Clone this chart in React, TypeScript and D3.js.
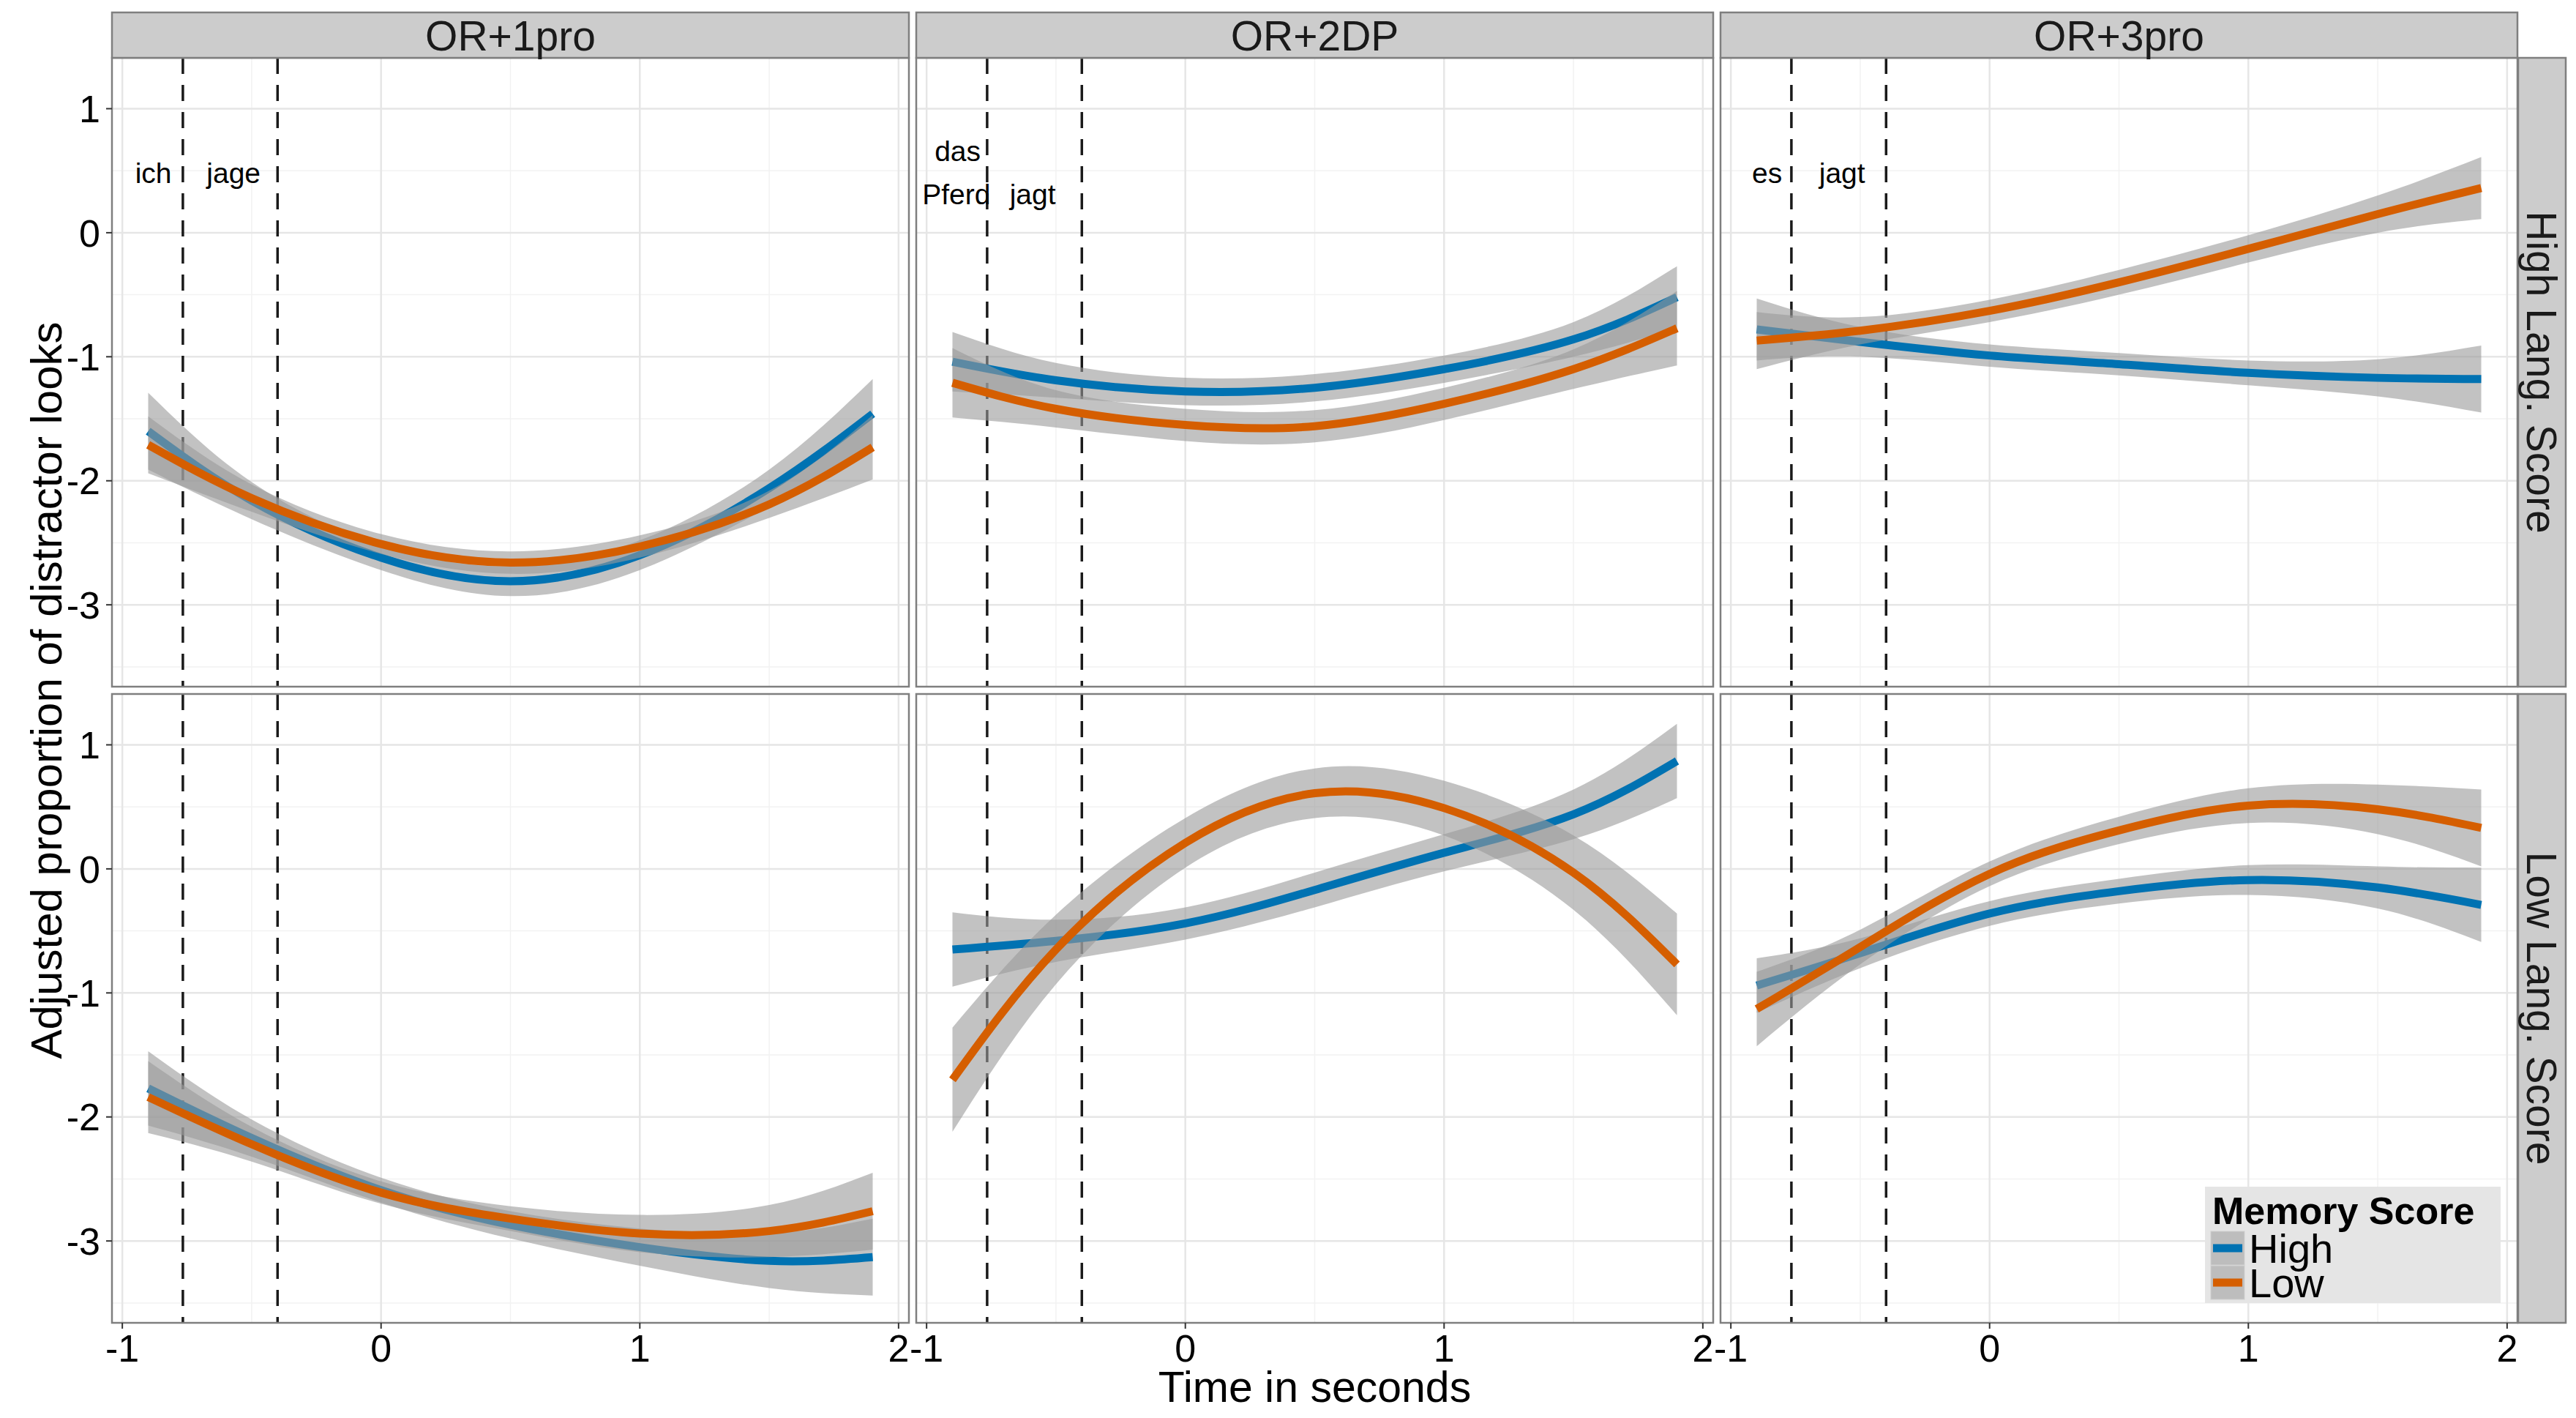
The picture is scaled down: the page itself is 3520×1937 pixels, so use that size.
import React from 'react';
import * as d3 from 'd3';

// ---------- data ----------
const timeSamples = [-0.9, -0.5, 0, 0.5, 1, 1.5, 1.9];
const constructions = ['OR+1pro', 'OR+2DP', 'OR+3pro'];
const languageScores = ['High Lang. Score', 'Low Lang. Score'];
const memoryScores = ['High', 'Low'];
const memoryColors = ['#0072B2', '#D55E00'];
const xTicks = [-1, 0, 1, 2];
const yTicks = [1, 0, -1, -2, -3];
const xMinor = [-0.5, 0.5, 1.5];
const yMinor = [1, 0.5, -0.5, -1.5, -2.5, -3.5];
const wordOnsets = [-0.766, -0.4];

// High Lang. Score row
const fit1proHiLangHiMem = [-1.6, -2.16, -2.62, -2.81, -2.6, -2.06, -1.46];
const se1proHiLangHiMem = [0.31, 0.15, 0.1, 0.12, 0.12, 0.15, 0.28];
const fit1proHiLangLoMem = [-1.71, -2.14, -2.51, -2.66, -2.53, -2.19, -1.73];
const se1proHiLangLoMem = [0.23, 0.11, 0.08, 0.09, 0.09, 0.11, 0.26];

const fit2DPHiLangHiMem = [-1.04, -1.19, -1.28, -1.25, -1.1, -0.86, -0.52];
const se2DPHiLangHiMem = [0.24, 0.14, 0.11, 0.11, 0.11, 0.14, 0.25];
const fit2DPHiLangLoMem = [-1.21, -1.42, -1.55, -1.56, -1.38, -1.1, -0.77];
const se2DPHiLangLoMem = [0.28, 0.15, 0.13, 0.13, 0.13, 0.16, 0.3];

const fit3proHiLangHiMem = [-0.78, -0.88, -0.99, -1.06, -1.13, -1.17, -1.18];
const se3proHiLangHiMem = [0.25, 0.12, 0.09, 0.09, 0.1, 0.15, 0.27];
const fit3proHiLangLoMem = [-0.87, -0.79, -0.63, -0.4, -0.13, 0.15, 0.36];
const se3proHiLangLoMem = [0.23, 0.11, 0.09, 0.1, 0.11, 0.15, 0.25];

// Low Lang. Score row
const fit1proLoLangHiMem = [-1.77, -2.17, -2.59, -2.87, -3.05, -3.16, -3.13];
const se1proLoLangHiMem = [0.3, 0.15, 0.1, 0.11, 0.15, 0.22, 0.31];
const fit1proLoLangLoMem = [-1.84, -2.22, -2.61, -2.82, -2.94, -2.92, -2.76];
const se1proLoLangLoMem = [0.29, 0.14, 0.09, 0.1, 0.15, 0.21, 0.31];

const fit2DPLoLangHiMem = [-0.65, -0.58, -0.44, -0.17, 0.13, 0.44, 0.87];
const se2DPLoLangHiMem = [0.3, 0.17, 0.13, 0.14, 0.15, 0.2, 0.3];
const fit2DPLoLangLoMem = [-1.7, -0.65, 0.21, 0.61, 0.49, -0.03, -0.77];
const se2DPLoLangLoMem = [0.42, 0.28, 0.2, 0.2, 0.22, 0.3, 0.41];

const fit3proLoLangHiMem = [-0.94, -0.68, -0.36, -0.18, -0.09, -0.15, -0.29];
const se3proLoLangHiMem = [0.22, 0.12, 0.1, 0.1, 0.12, 0.17, 0.3];
const fit3proLoLangLoMem = [-1.13, -0.63, -0.04, 0.31, 0.51, 0.48, 0.33];
const se3proLoLangLoMem = [0.3, 0.14, 0.1, 0.11, 0.14, 0.2, 0.31];

// word annotations (top row only)
const words1pro = [
  { text: 'ich', x: -0.88, y: 0.48 },
  { text: 'jage', x: -0.57, y: 0.48 },
];
const words2DP = [
  { text: 'das', x: -0.88, y: 0.66 },
  { text: 'Pferd', x: -0.885, y: 0.31 },
  { text: 'jagt', x: -0.59, y: 0.31 },
];
const words3pro = [
  { text: 'es', x: -0.86, y: 0.48 },
  { text: 'jagt', x: -0.57, y: 0.48 },
];

const panelFits = [
  [
    [[fit1proHiLangHiMem, se1proHiLangHiMem], [fit1proHiLangLoMem, se1proHiLangLoMem]],
    [[fit2DPHiLangHiMem, se2DPHiLangHiMem], [fit2DPHiLangLoMem, se2DPHiLangLoMem]],
    [[fit3proHiLangHiMem, se3proHiLangHiMem], [fit3proHiLangLoMem, se3proHiLangLoMem]],
  ],
  [
    [[fit1proLoLangHiMem, se1proLoLangHiMem], [fit1proLoLangLoMem, se1proLoLangLoMem]],
    [[fit2DPLoLangHiMem, se2DPLoLangHiMem], [fit2DPLoLangLoMem, se2DPLoLangLoMem]],
    [[fit3proLoLangHiMem, se3proLoLangHiMem], [fit3proLoLangLoMem, se3proLoLangLoMem]],
  ],
];
const panelWords = [words1pro, words2DP, words3pro];

// ---------- layout ----------
const W = 3520;
const H = 1937;
const left = 153;
const top = 79;
const panelW = 1089;
const panelH = 859;
const colGap = 10;
const rowGap = 10;
const stripTop = 17;
const stripH = top - stripTop;
const rightStripW = 65;
const FONT = "'Liberation Sans', Arial, Helvetica, sans-serif";
const ribbonFill = 'rgba(153,153,153,0.6)';
const borderColor = '#7f7f7f';

const colX = (c: number) => left + c * (panelW + colGap);
const rowY = (r: number) => top + r * (panelH + rowGap);

export default function App() {
  const panels: React.ReactNode[] = [];

  for (let r = 0; r < 2; r++) {
    for (let c = 0; c < 3; c++) {
      const x0 = colX(c);
      const y0 = rowY(r);
      const xs = d3.scaleLinear().domain([-1.04, 2.04]).range([x0, x0 + panelW]);
      const ys = d3.scaleLinear().domain([-3.66, 1.41]).range([y0 + panelH, y0]);
      const clipId = `clip-${r}-${c}`;

      const series = panelFits[r][c].map(([fit, se], g) => {
        const pts = timeSamples.map((t, i) => ({ t, y: fit[i], s: se[i] }));
        const area = d3
          .area<{ t: number; y: number; s: number }>()
          .x((d) => xs(d.t))
          .y0((d) => ys(d.y - d.s))
          .y1((d) => ys(d.y + d.s))
          .curve(d3.curveNatural);
        const line = d3
          .line<{ t: number; y: number; s: number }>()
          .x((d) => xs(d.t))
          .y((d) => ys(d.y))
          .curve(d3.curveNatural);
        return (
          <g key={`s${g}`}>
            <path d={area(pts) || ''} fill={ribbonFill} stroke="none" />
            <path d={line(pts) || ''} fill="none" stroke={memoryColors[g]} strokeWidth={11} />
          </g>
        );
      });

      panels.push(
        <g key={`p${r}${c}`}>
          <defs>
            <clipPath id={clipId}>
              <rect x={x0} y={y0} width={panelW} height={panelH} />
            </clipPath>
          </defs>
          <rect x={x0} y={y0} width={panelW} height={panelH} fill="#ffffff" />
          <g clipPath={`url(#${clipId})`}>
            {yMinor.map((v) => (
              <line key={`ym${v}`} x1={x0} x2={x0 + panelW} y1={ys(v)} y2={ys(v)} stroke="#f2f2f2" strokeWidth={1.5} />
            ))}
            {xMinor.map((v) => (
              <line key={`xm${v}`} x1={xs(v)} x2={xs(v)} y1={y0} y2={y0 + panelH} stroke="#f2f2f2" strokeWidth={1.5} />
            ))}
            {yTicks.map((v) => (
              <line key={`yg${v}`} x1={x0} x2={x0 + panelW} y1={ys(v)} y2={ys(v)} stroke="#e6e6e6" strokeWidth={2.5} />
            ))}
            {xTicks.map((v) => (
              <line key={`xg${v}`} x1={xs(v)} x2={xs(v)} y1={y0} y2={y0 + panelH} stroke="#e6e6e6" strokeWidth={2.5} />
            ))}
            {wordOnsets.map((v) => (
              <line
                key={`on${v}`}
                x1={xs(v)}
                x2={xs(v)}
                y1={y0}
                y2={y0 + panelH}
                stroke="#1a1a1a"
                strokeWidth={3.5}
                strokeDasharray="22 15"
              />
            ))}
            {series}
            {r === 0 &&
              panelWords[c].map((w, i) => (
                <text
                  key={`w${i}`}
                  x={xs(w.x)}
                  y={ys(w.y)}
                  dy="0.35em"
                  textAnchor="middle"
                  fontFamily={FONT}
                  fontSize={39}
                  fill="#000"
                >
                  {w.text}
                </text>
              ))}
          </g>
          <rect x={x0} y={y0} width={panelW} height={panelH} fill="none" stroke={borderColor} strokeWidth={2.5} />
          {/* y ticks for left column */}
          {c === 0 &&
            yTicks.map((v) => (
              <g key={`yt${v}`}>
                <line x1={x0 - 8} x2={x0} y1={ys(v)} y2={ys(v)} stroke="#333333" strokeWidth={2} />
                <text
                  x={x0 - 16}
                  y={ys(v)}
                  dy="0.36em"
                  textAnchor="end"
                  fontFamily={FONT}
                  fontSize={52}
                  fill="#000"
                >
                  {v}
                </text>
              </g>
            ))}
          {/* x ticks for bottom row */}
          {r === 1 &&
            xTicks.map((v) => (
              <g key={`xt${v}`}>
                <line x1={xs(v)} x2={xs(v)} y1={y0 + panelH} y2={y0 + panelH + 8} stroke="#333333" strokeWidth={2} />
                <text x={xs(v)} y={1860} textAnchor="middle" fontFamily={FONT} fontSize={52} fill="#000">
                  {v}
                </text>
              </g>
            ))}
        </g>
      );
    }
  }

  const lastRight = colX(2) + panelW;

  return (
    <svg
      width={W}
      height={H}
      viewBox={`0 0 ${W} ${H}`}
      style={{ position: 'absolute', left: 0, top: 0, background: '#ffffff' }}
    >
      <rect x={0} y={0} width={W} height={H} fill="#ffffff" />
      {panels}
      {/* top strips */}
      {constructions.map((name, c) => (
        <g key={`strip${c}`}>
          <rect x={colX(c)} y={stripTop} width={panelW} height={stripH} fill="#cccccc" stroke={borderColor} strokeWidth={2.5} />
          <text
            x={colX(c) + panelW / 2}
            y={stripTop + stripH / 2}
            dy="0.36em"
            textAnchor="middle"
            fontFamily={FONT}
            fontSize={57}
            fill="#1a1a1a"
          >
            {name}
          </text>
        </g>
      ))}
      {/* right strips */}
      {languageScores.map((name, r) => (
        <g key={`rstrip${r}`}>
          <rect x={lastRight + 1} y={rowY(r)} width={rightStripW} height={panelH} fill="#cccccc" stroke={borderColor} strokeWidth={2.5} />
          <text
            transform={`translate(${lastRight + 1 + rightStripW / 2},${rowY(r) + panelH / 2}) rotate(90)`}
            dy="0.36em"
            textAnchor="middle"
            fontFamily={FONT}
            fontSize={57}
            fill="#1a1a1a"
          >
            {name}
          </text>
        </g>
      ))}
      {/* axis titles */}
      <text
        x={(left + lastRight) / 2}
        y={1915}
        textAnchor="middle"
        fontFamily={FONT}
        fontSize={59}
        fill="#000"
      >
        Time in seconds
      </text>
      <text
        transform={`translate(84,${(top + rowY(1) + panelH) / 2}) rotate(-90)`}
        textAnchor="middle"
        fontFamily={FONT}
        fontSize={60}
        fill="#000"
      >
        Adjusted proportion of distractor looks
      </text>
      {/* legend */}
      <g>
        <rect x={3013} y={1621} width={404} height={159} fill="#e5e5e5" />
        <text x={3023} y={1672} fontFamily={FONT} fontSize={52} fontWeight="bold" fill="#000">
          Memory Score
        </text>
        {memoryScores.map((name, g) => (
          <g key={`leg${g}`}>
            <rect x={3021} y={1682 + g * 47} width={46} height={46} fill="#bdbdbd" stroke="#d0d0d0" strokeWidth={1} />
            <line
              x1={3024}
              x2={3064}
              y1={1682 + g * 47 + 23}
              y2={1682 + g * 47 + 23}
              stroke={memoryColors[g]}
              strokeWidth={11}
            />
            <text x={3073} y={1725 + g * 47} fontFamily={FONT} fontSize={56} fill="#000">
              {name}
            </text>
          </g>
        ))}
      </g>
    </svg>
  );
}
